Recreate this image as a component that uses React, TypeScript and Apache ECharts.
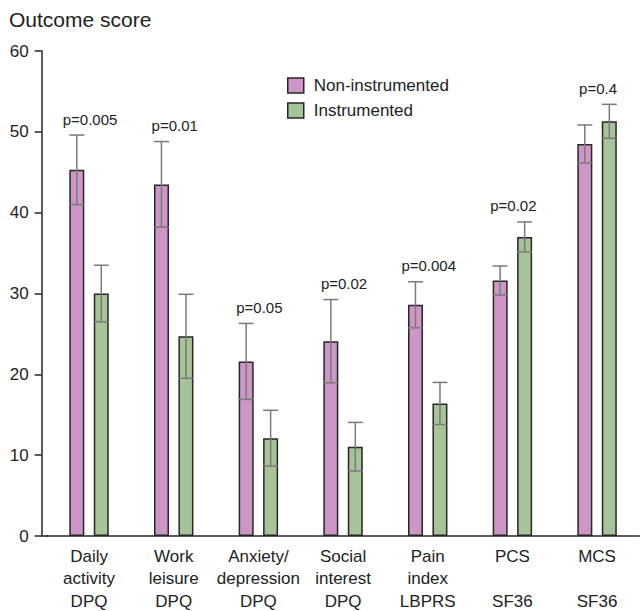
import React, { useEffect, useRef } from 'react';
import * as echarts from 'echarts';

const categories = [
  'Daily\nactivity\nDPQ',
  'Work\nleisure\nDPQ',
  'Anxiety/\ndepression\nDPQ',
  'Social\ninterest\nDPQ',
  'Pain\nindex\nLBPRS',
  'PCS\n\nSF36',
  'MCS\n\nSF36',
];
const nonInstrumented = [45.3, 43.5, 21.6, 24.1, 28.6, 31.6, 48.5];
const nonInstrumentedErr = [4.3, 5.3, 4.7, 5.15, 2.85, 1.8, 2.35];
const instrumented = [30.0, 24.7, 12.1, 11.05, 16.4, 37.0, 51.3];
const instrumentedErr = [3.5, 5.2, 3.45, 3.0, 2.6, 1.85, 2.1];
const pValues = ['p=0.005', 'p=0.01', 'p=0.05', 'p=0.02', 'p=0.004', 'p=0.02', 'p=0.4'];
const yTicks = { min: 0, max: 60, interval: 10 };

const FONT = '"Liberation Sans", Arial, Helvetica, sans-serif';
const PINK = '#CD96C6';
const GREEN = '#A7C398';
const BORDER = '#262626';
const ERR = '#7a7a7a';
const TEXT = '#222222';

function errorSeries(values: number[], errs: number[], offset: number) {
  return {
    type: 'custom',
    z: 5,
    silent: true,
    data: values.map((v, i) => [i, v - errs[i], v + errs[i]]),
    renderItem: (params: any, api: any) => {
      const i = api.value(0);
      const lo = api.coord([i, api.value(1)]);
      const hi = api.coord([i, api.value(2)]);
      const x = lo[0] + offset;
      const half = 7.5;
      const style = { stroke: ERR, lineWidth: 1.5 };
      return {
        type: 'group',
        children: [
          { type: 'line', shape: { x1: x, y1: hi[1], x2: x, y2: lo[1] }, style },
          { type: 'line', shape: { x1: x - half, y1: hi[1], x2: x + half, y2: hi[1] }, style },
          { type: 'line', shape: { x1: x - half, y1: lo[1], x2: x + half, y2: lo[1] }, style },
        ],
      };
    },
  };
}

export default function App() {
  const ref = useRef<HTMLDivElement>(null);
  useEffect(() => {
    document.body.style.margin = '0';
    if (!ref.current) return;
    const chart = echarts.init(ref.current, undefined, { renderer: 'svg' });
    const pTop = nonInstrumented.map((v, i) =>
      [i, Math.max(v + nonInstrumentedErr[i], instrumented[i] + instrumentedErr[i])]
    );
    chart.setOption({
      animation: false,
      title: {
        text: 'Outcome score',
        left: 4,
        top: 4,
        textStyle: { fontFamily: FONT, fontSize: 21, fontWeight: 'normal', color: TEXT },
      },
      legend: {
        data: ['Non-instrumented', 'Instrumented'],
        orient: 'vertical',
        left: 282,
        top: 72,
        icon: 'rect',
        itemWidth: 16,
        itemHeight: 15,
        itemGap: 8,
        itemStyle: { borderColor: BORDER, borderWidth: 1.5 },
        textStyle: { fontFamily: FONT, fontSize: 17, color: TEXT, padding: [0, 0, 0, 5] },
      },
      grid: { left: 46.7, right: 1.6, top: 51, bottom: 75, outerBoundsMode: 'none', containLabel: false },
      xAxis: {
        type: 'category',
        data: categories,
        axisLine: { lineStyle: { color: BORDER, width: 1.5 } },
        axisTick: { alignWithLabel: true, length: 5, lineStyle: { color: BORDER, width: 1.5 } },
        axisLabel: {
          fontFamily: FONT,
          fontSize: 17,
          lineHeight: 22.5,
          color: TEXT,
          margin: 9,
          interval: 0,
        },
      },
      yAxis: {
        type: 'value',
        min: yTicks.min,
        max: yTicks.max,
        interval: yTicks.interval,
        offset: 5,
        splitLine: { show: false },
        axisLine: { show: true, lineStyle: { color: BORDER, width: 1.5 } },
        axisTick: { show: true, length: 7, lineStyle: { color: BORDER, width: 1.5 } },
        axisLabel: { fontFamily: FONT, fontSize: 17, color: TEXT, margin: 13 },
      },
      graphic: [
        {
          type: 'line',
          shape: { x1: 41.3, y1: 536, x2: 48, y2: 536 },
          style: { stroke: BORDER, lineWidth: 1.5 },
        },
      ],
      series: [
        {
          name: 'Non-instrumented',
          type: 'bar',
          data: nonInstrumented,
          barWidth: 15,
          barGap: '63%',
          itemStyle: { color: PINK, borderColor: BORDER, borderWidth: 1.5 },
        },
        {
          name: 'Instrumented',
          type: 'bar',
          data: instrumented,
          barWidth: 15,
          barGap: '63%',
          itemStyle: { color: GREEN, borderColor: BORDER, borderWidth: 1.5 },
        },
        errorSeries(nonInstrumented, nonInstrumentedErr, -12.25),
        errorSeries(instrumented, instrumentedErr, 12.25),
        {
          type: 'custom',
          z: 6,
          silent: true,
          data: pTop,
          renderItem: (params: any, api: any) => {
            const p = api.coord([api.value(0), api.value(1)]);
            return {
              type: 'text',
              x: p[0] + 1,
              y: p[1] - 16,
              style: {
                text: pValues[params.dataIndex],
                fill: TEXT,
                font: `15px ${FONT}`,
                align: 'center',
                verticalAlign: 'middle',
              },
            };
          },
        },
      ],
    });
    return () => chart.dispose();
  }, []);
  return <div ref={ref} style={{ width: 641, height: 611 }} />;
}
